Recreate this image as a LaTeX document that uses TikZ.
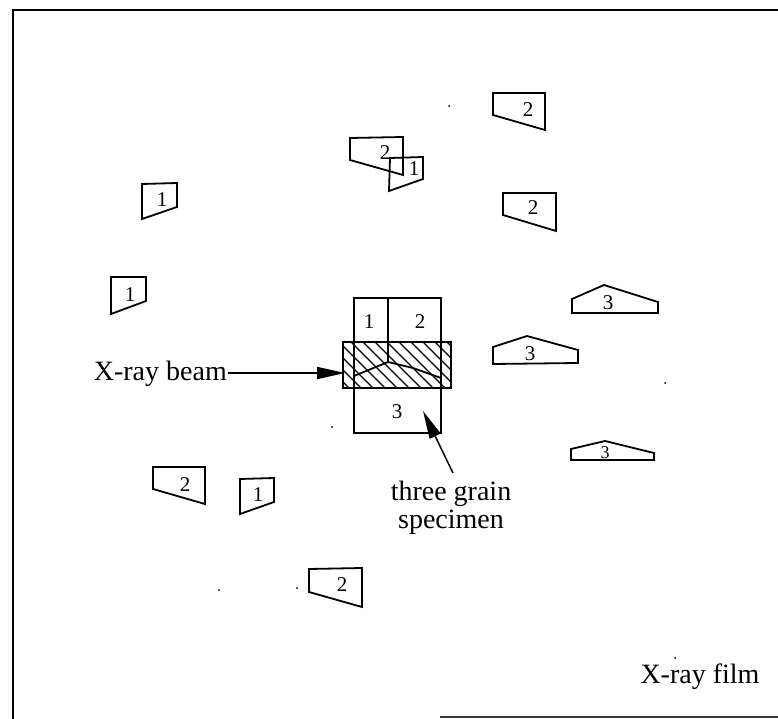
\documentclass[tikz,border=0pt]{standalone}
\usepackage{fontspec}
\setmainfont{Liberation Serif}
\usetikzlibrary{arrows.meta}
\tikzset{
  grain/.style={line width=1.8pt, line join=miter},
  num/.style={font=\fontsize{21}{21}\selectfont, inner sep=0pt},
  lbl/.style={font=\fontsize{28}{28}\selectfont, inner sep=0pt},
  arr/.style={line width=1.5pt, -{Triangle[length=28pt,width=12pt]}},
  hatch/.style={line width=1.1pt},
  dot/.style={fill=black}
}
\begin{document}
\begin{tikzpicture}[x=1pt,y=-1pt]
\useasboundingbox (0,0) rectangle (778,719);
% film border
\draw[line width=2.4pt] (13,719) -- (13,10) -- (778,10);
\draw[line width=2pt, black!80] (440,717) -- (778,717);

% diffraction spots, grain 2
\draw[grain] (493,93) -- (545,93) -- (545,130) -- (493,115) -- cycle;
\node[num] (s2a) at (528,110) {2};
\draw[grain] (350,138) -- (403,137) -- (403,175) -- (350,160) -- cycle;
\node[num] (s2b) at (385,153) {2};
\draw[grain] (503,193) -- (556,193) -- (556,231) -- (503,215) -- cycle;
\node[num] (s2c) at (533,208) {2};
\draw[grain] (153,467) -- (205,467) -- (205,504) -- (153,489) -- cycle;
\node[num] (s2d) at (185,485) {2};
\draw[grain] (309,569) -- (362,568) -- (362,607) -- (309,592) -- cycle;
\node[num] (s2e) at (342,585) {2};

% diffraction spots, grain 1
\draw[grain] (390,158) -- (423,157) -- (423,179) -- (389,191) -- cycle;
\node[num] (s1a) at (414,169) {1};
\draw[grain] (142,184) -- (177,183) -- (177,207) -- (142,219) -- cycle;
\node[num] (s1b) at (162,200) {1};
\draw[grain] (111,277) -- (146,277) -- (146,301) -- (111,314) -- cycle;
\node[num] (s1c) at (130,295) {1};
\draw[grain] (240,479) -- (274,478) -- (274,502) -- (240,514) -- cycle;
\node[num] (s1d) at (258,495) {1};

% diffraction spots, grain 3
\draw[grain] (572,313) -- (572,299) -- (604,285) -- (658,302) -- (658,313) -- cycle;
\node[num] (s3a) at (608,303) {3};
\draw[grain] (493,364) -- (493,347) -- (527,336) -- (578,350) -- (578,363) -- cycle;
\node[num] (s3b) at (530,354) {3};
\draw[grain] (571,460) -- (571,449) -- (605,441) -- (654,453) -- (654,460) -- cycle;
\node[num, font=\fontsize{18}{18}\selectfont] (s3c) at (605,453) {3};

% three grain specimen
\begin{scope}
\clip (343,342) rectangle (451,388);
\foreach \i in {0,...,15} {
  \draw[hatch] (279+\i*12,342) -- ++(50,50);
}
\end{scope}
\draw[grain] (354,298) rectangle (441,433);
\draw[grain] (388,298) -- (388,362);
\draw[grain] (343,342) rectangle (451,388);
\draw[grain] (354,376) -- (388,362) -- (413,368) -- (441,378);
\node[num] (g1) at (369,322) {1};
\node[num] (g2) at (420,322) {2};
\node[num] (g3) at (397,412) {3};

% labels and arrows
\node[lbl, anchor=base east] (beam) at (227,380) {X-ray beam};
\coordinate (beamtail) at (228,373);
\coordinate (beamtip) at (345,373);
\draw[arr] (beamtail) -- (beamtip);

\node[lbl, anchor=base] (spec1) at (451,500) {three grain};
\node[lbl, anchor=base] (spec2) at (451,528) {specimen};
\coordinate (spectail) at (453,473);
\coordinate (spectip) at (423,411);
\draw[arr] (spectail) -- (spectip);

\node[lbl, anchor=base] (film) at (700,683) {X-ray film};

% stray dots
\fill[dot] (449,106) circle (1pt);
\fill[dot] (665,383) circle (1pt);
\fill[dot] (219,590) circle (1pt);
\fill[dot] (297,588) circle (1pt);
\fill[dot] (675,658) circle (1pt);
\fill[dot] (332,427) circle (1pt);
\end{tikzpicture}
\end{document}
